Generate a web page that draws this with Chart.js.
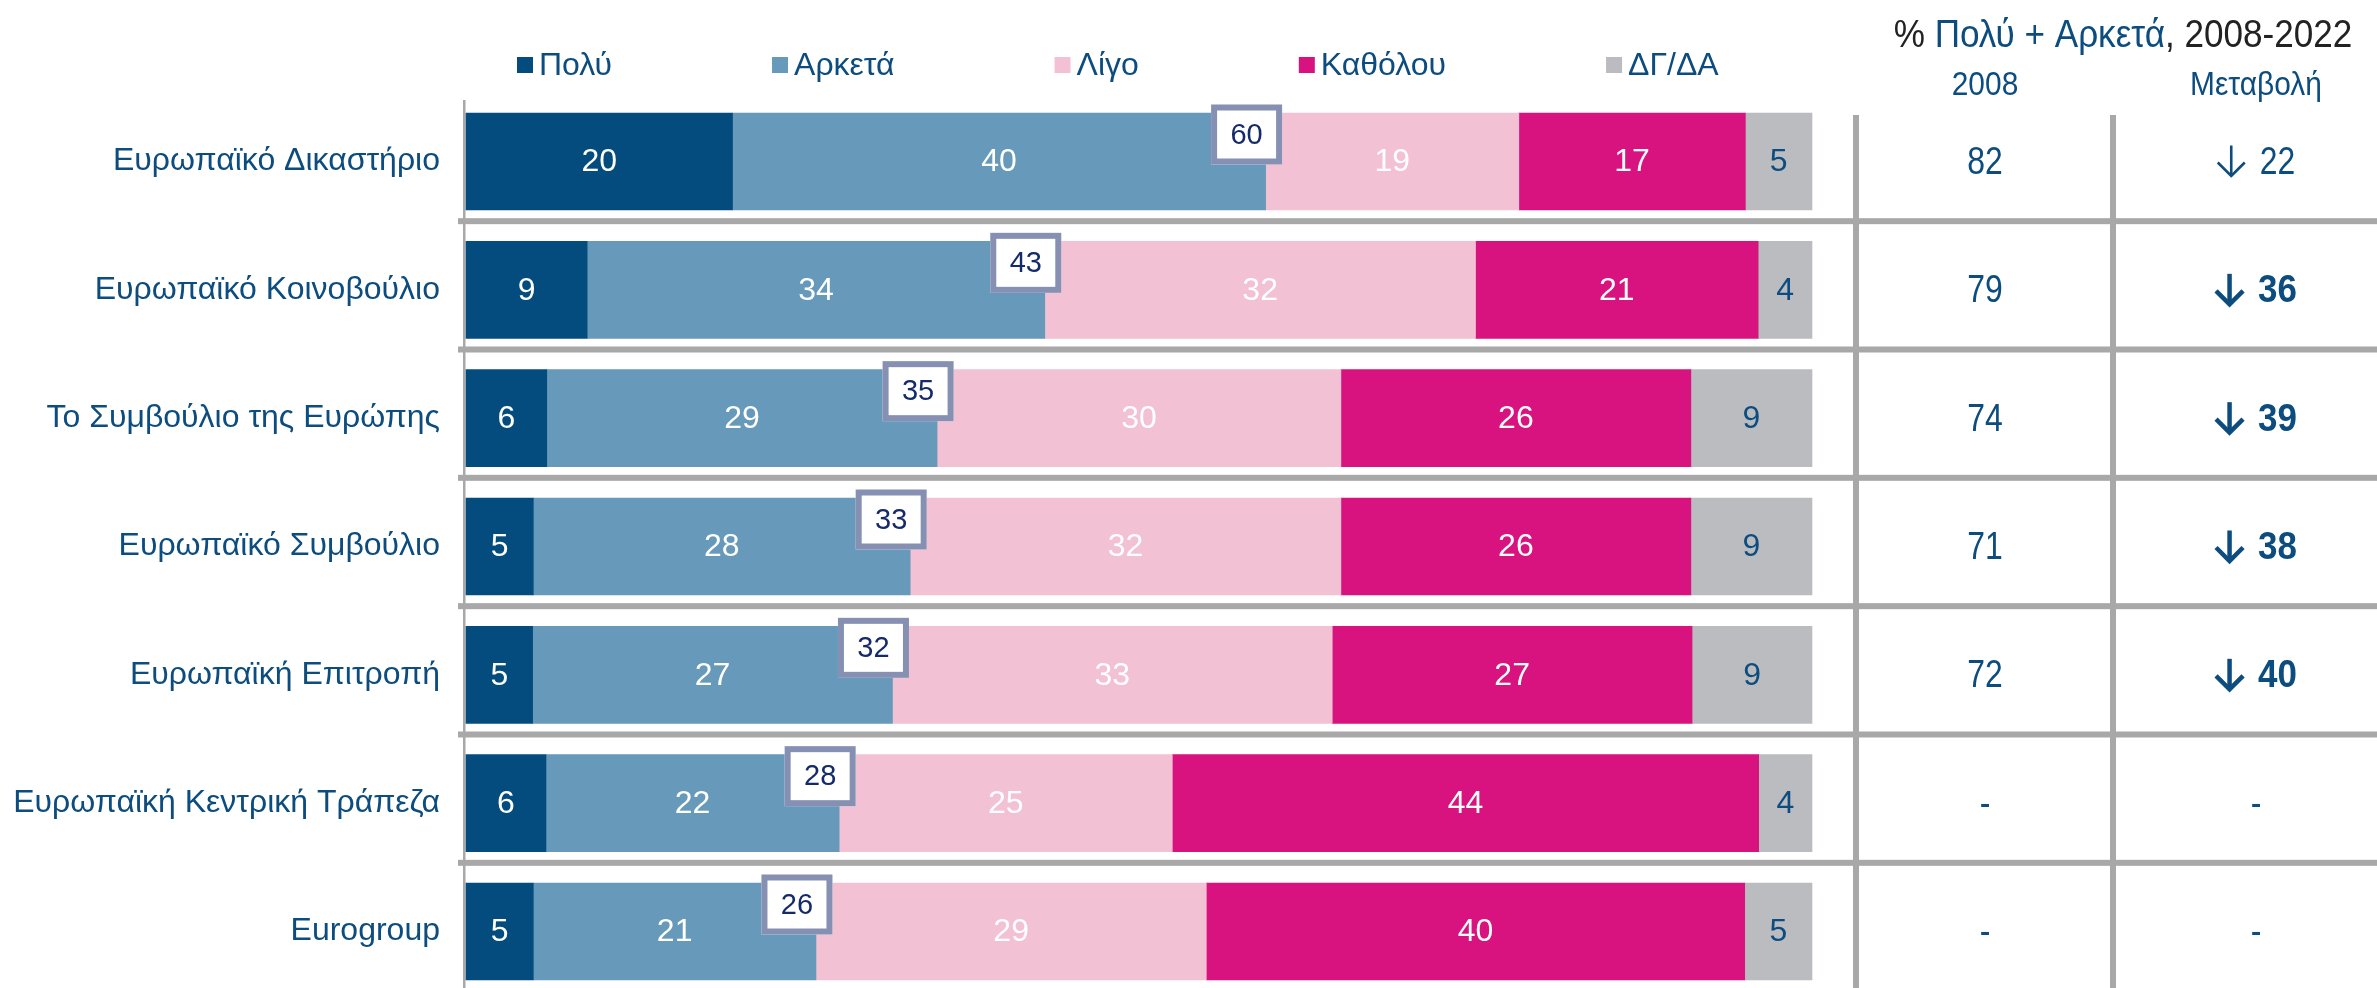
<!DOCTYPE html>
<html>
<head>
<meta charset="utf-8">
<script src="https://cdn.jsdelivr.net/npm/chart.js@4.4.0/dist/chart.umd.min.js"></script>
<style>
  html, body { margin: 0; padding: 0; background: #fff; }
  #wrap { width: 2377px; height: 988px; position: relative; }
</style>
</head>
<body>
<div id="wrap"><canvas id="trustChart"></canvas></div>
<script>
// Θεσμοί (κατηγορίες)
const thesmoi = ['Ευρωπαϊκό Δικαστήριο', 'Ευρωπαϊκό Κοινοβούλιο', 'Το Συμβούλιο της Ευρώπης',
  'Ευρωπαϊκό Συμβούλιο', 'Ευρωπαϊκή Επιτροπή', 'Ευρωπαϊκή Κεντρική Τράπεζα', 'Eurogroup'];
const seires = ['Πολύ', 'Αρκετά', 'Λίγο', 'Καθόλου', 'ΔΓ/ΔΑ'];

// Τιμές (%)
const poly = [20, 9, 6, 5, 5, 6, 5];
const arketa = [40, 34, 29, 28, 27, 22, 21];
const ligo = [19, 32, 30, 32, 33, 25, 29];
const katholou = [17, 21, 26, 26, 27, 44, 40];
const dgda = [5, 4, 9, 9, 9, 4, 5];

// Πολύ + Αρκετά 2022, 2008 και μεταβολή
const athroisma = [60, 43, 35, 33, 32, 28, 26];
const timi2008 = [82, 79, 74, 71, 72, null, null];
const metavoli = [22, 36, 39, 38, 40, null, null];
const entona = [false, true, true, true, true, false, false];

const xromata = ['#044C7E', '#6699BA', '#F2C1D3', '#D8127E', '#BBBCC0'];
const xromaEtiketas = ['#ffffff', '#ffffff', '#ffffff', '#ffffff', '#0C4C7E'];
const mple = '#0C4C7E';
const FONT = "'Liberation Sans', Arial, sans-serif";

const times = [poly, arketa, ligo, katholou, dgda];
// κάθε μπάρα γεμίζει το 100% (οι στρογγυλοποιημένες τιμές δίνουν άθροισμα 100 ή 101)
const synola = thesmoi.map((_, i) => times.reduce((s, arr) => s + arr[i], 0));

// κείμενο λίγο στενεμένο οριζόντια
function stenoKeimeno(ctx, txt, x, y, sx) {
  ctx.save();
  ctx.translate(x, y);
  ctx.scale(sx, 1);
  ctx.fillText(txt, 0, 0);
  ctx.restore();
}

function velos(ctx, x, y, lw) {
  // βέλος προς τα κάτω, πλάτος 29, ύψος 32, x = αριστερή άκρη, y = κέντρο
  ctx.save();
  ctx.strokeStyle = mple;
  ctx.lineWidth = lw;
  ctx.lineCap = 'butt';
  ctx.lineJoin = 'miter';
  ctx.beginPath();
  ctx.moveTo(x + 14.5, y - 16);
  ctx.lineTo(x + 14.5, y + 14);
  ctx.stroke();
  ctx.beginPath();
  ctx.moveTo(x + 1, y + 1);
  ctx.lineTo(x + 14.5, y + 14.5);
  ctx.lineTo(x + 28, y + 1);
  ctx.stroke();
  ctx.restore();
}

const pinakasPlugin = {
  id: 'pinakas',
  beforeDatasetsDraw(chart) {
    const ctx = chart.ctx;
    const y = chart.scales.y;
    const area = chart.chartArea;
    ctx.save();
    ctx.fillStyle = '#A8A8A8';
    // άξονας
    ctx.fillRect(area.left - 3, 100, 2.5, 888);
    // διαχωριστικά γραμμών
    for (let i = 0; i < thesmoi.length - 1; i++) {
      const ym = (y.getPixelForValue(i) + y.getPixelForValue(i + 1)) / 2 - 4.5;
      ctx.fillRect(458, ym - 3, chart.width - 458, 6);
    }
    // στήλες πίνακα
    [1856, 2113].forEach(x => ctx.fillRect(x - 3, 115, 6, chart.height - 115));
    ctx.restore();
  },
  afterDatasetsDraw(chart) {
    const ctx = chart.ctx;
    const y = chart.scales.y;
    ctx.save();
    ctx.textAlign = 'center';
    ctx.textBaseline = 'middle';

    // ετικέτες τιμών
    times.forEach((arr, d) => {
      const meta = chart.getDatasetMeta(d);
      ctx.fillStyle = xromaEtiketas[d];
      ctx.font = '32px ' + FONT;
      meta.data.forEach((el, i) => {
        ctx.fillText(arr[i], (el.x + el.base) / 2, el.y + 1);
      });
    });

    // κουτιά Πολύ + Αρκετά
    const metaArk = chart.getDatasetMeta(1);
    metaArk.data.forEach((el, i) => {
      const cx = el.x - 19, cy = el.y - 27, w = 71, h = 60;
      ctx.fillStyle = '#ffffff';
      ctx.fillRect(cx - w / 2, cy - h / 2, w, h);
      ctx.strokeStyle = '#8590B2';
      ctx.lineWidth = 6;
      ctx.strokeRect(cx - w / 2 + 3, cy - h / 2 + 3, w - 6, h - 6);
      ctx.fillStyle = '#142A6B';
      ctx.font = '29px ' + FONT;
      ctx.fillText(athroisma[i], cx, cy + 1);
    });

    // πίνακας δεξιά
    const sx = 0.84;
    thesmoi.forEach((_, i) => {
      const yy = y.getPixelForValue(i) + 2;
      ctx.fillStyle = mple;
      ctx.font = '38px ' + FONT;
      stenoKeimeno(ctx, timi2008[i] === null ? '-' : String(timi2008[i]), 1985, yy, sx);
      if (metavoli[i] === null) {
        stenoKeimeno(ctx, '-', 2256, yy, sx);
      } else {
        ctx.font = (entona[i] ? 'bold ' : '') + '38px ' + FONT;
        const msx = entona[i] ? 0.92 : sx;
        const txt = String(metavoli[i]);
        const tw = ctx.measureText(txt).width * msx;
        const olo = 29 + 14 + tw;
        const x0 = 2256 - olo / 2;
        velos(ctx, x0, yy - 2, entona[i] ? 4.5 : 2.6);
        ctx.textAlign = 'left';
        stenoKeimeno(ctx, txt, x0 + 43, yy, msx);
        ctx.textAlign = 'center';
      }
    });

    // επικεφαλίδα
    ctx.textBaseline = 'alphabetic';
    ctx.font = '39px ' + FONT;
    const hsx = 0.9;
    const kommatia = [['% ', '#222222'], ['Πολύ + Αρκετά', mple], [', 2008-2022', '#222222']];
    const olo = kommatia.reduce((s, k) => s + ctx.measureText(k[0]).width * hsx, 0);
    let hx = 2123 - olo / 2;
    ctx.textAlign = 'left';
    kommatia.forEach(k => {
      ctx.fillStyle = k[1];
      stenoKeimeno(ctx, k[0], hx, 47, hsx);
      hx += ctx.measureText(k[0]).width * hsx;
    });
    ctx.textAlign = 'center';
    ctx.fillStyle = mple;
    ctx.font = '34px ' + FONT;
    stenoKeimeno(ctx, '2008', 1985, 95, 0.88);
    stenoKeimeno(ctx, 'Μεταβολή', 2256, 95, 0.88);

    // υπόμνημα
    ctx.textAlign = 'left';
    ctx.textBaseline = 'middle';
    ctx.font = '32px ' + FONT;
    let lx = 517;
    seires.forEach((s, d) => {
      ctx.fillStyle = xromata[d];
      ctx.fillRect(lx, 57, 16, 16);
      ctx.fillStyle = mple;
      ctx.fillText(s, lx + 22, 66);
      lx += 22 + ctx.measureText(s).width + 160;
    });
    ctx.restore();
  }
};

Chart.defaults.font.family = FONT;

const ctx = document.getElementById('trustChart').getContext('2d');
new Chart(ctx, {
  type: 'bar',
  data: {
    labels: thesmoi,
    datasets: seires.map((s, d) => ({
      label: s,
      data: times[d].map((v, i) => v / synola[i] * 100),
      backgroundColor: xromata[d],
      borderWidth: 0,
      barThickness: 97,
      clip: false
    }))
  },
  options: {
    indexAxis: 'y',
    responsive: true,
    maintainAspectRatio: false,
    animation: false,
    layout: { padding: { top: 161.5, bottom: 56.5, left: 0, right: 565 } },
    scales: {
      x: { stacked: true, min: 0, max: 100, display: false },
      y: {
        stacked: true,
        offset: false,
        grid: { display: false, drawTicks: false },
        border: { display: false },
        ticks: { color: mple, font: { size: 32 }, padding: 26 },
        afterFit(scale) { scale.width = 466; }
      }
    },
    plugins: {
      legend: { display: false },
      tooltip: { enabled: false }
    }
  },
  plugins: [pinakasPlugin]
});
</script>
</body>
</html>
